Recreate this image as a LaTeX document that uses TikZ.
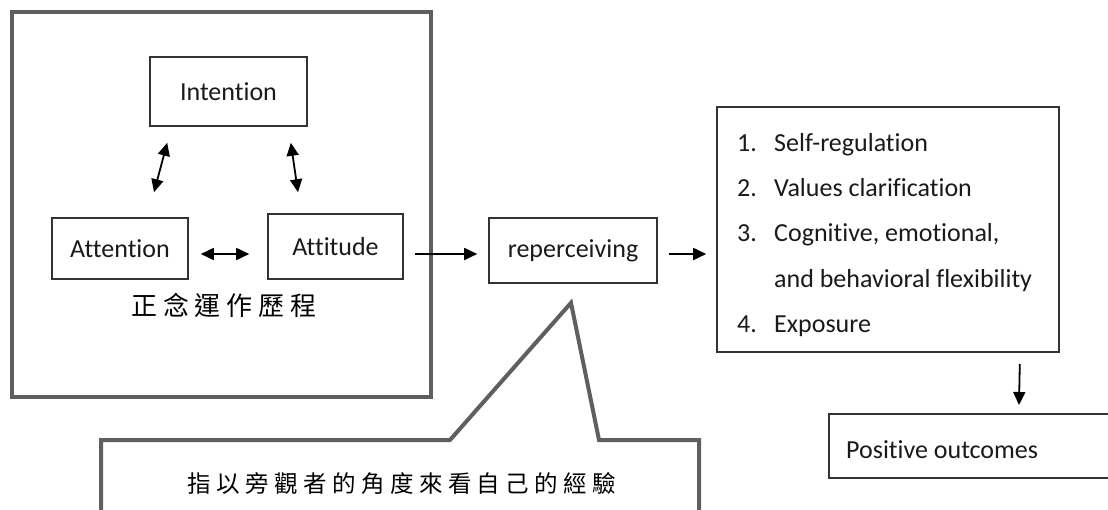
\documentclass[tikz,border=0pt]{standalone}
\usepackage{fontspec}
\setmainfont[RawFeature={-liga;-clig;-dlig;-hlig}]{Carlito}
\newfontfamily\cjk[LetterSpace=23]{Noto Sans CJK TC}
\usetikzlibrary{arrows.meta,calc}
\definecolor{boxc}{HTML}{333333}
\definecolor{outerc}{HTML}{5F5F5F}
\definecolor{txtc}{HTML}{1A1A1A}
\begin{document}
\begin{tikzpicture}[x=1pt,y=-1pt,
  box/.style={draw=boxc, line width=1.6pt, inner sep=0pt, text=txtc, font=\fontsize{26}{30}\selectfont},
  item/.style={inner sep=0pt, text=txtc, font=\fontsize{26}{30}\selectfont},
  frame/.style={draw=outerc, line width=4pt, line join=miter},
  conn/.style={line width=1.8pt, draw=black, -{Triangle[length=13pt,width=12pt]}},
  dbl/.style={line width=1.8pt, draw=black, {Triangle[length=13pt,width=12pt]}-{Triangle[length=13pt,width=12pt]}}
]
\useasboundingbox (0,0) rectangle (1108,509);
\fill[white] (0,0) rectangle (1108,509);
\clip (0,0) rectangle (1108,509);

% process frame
\node[frame, minimum width=419pt, minimum height=385pt, inner sep=0pt] (proc) at (221.5,204.5) {};
\node[box, minimum width=157pt, minimum height=69pt] (int) at (228.5,91.5) {Intention};
\node[box, minimum width=136pt, minimum height=61pt] (attn) at (120,248.5) {Attention};
\node[box, minimum width=135pt, minimum height=65pt] (att) at (335.5,246.5) {Attitude};
\node[text=black, inner sep=0pt, font=\cjk\fontsize{26}{30}\selectfont] (title) at (224,305) {正念運作歷程};

\draw[dbl] ($(attn.east)+(12,5.5)$) -- ($(att.west)+(-18,7.5)$);
\draw[dbl] ($(attn.north)+(34,-25)$) -- ($(int.south west)+(18,16)$);
\draw[dbl] ($(int.south east)+(-17,16)$) -- ($(att.north)+(-37.5,-21)$);

% reperceiving
\node[box, minimum width=168pt, minimum height=65pt] (rep) at (573,250.5) {reperceiving};
\draw[conn] ($(att.east)+(11,7.5)$) -- ($(rep.west)+(-11,3.5)$);

% list
\node[box, minimum width=342pt, minimum height=245pt] (lst) at (888,229.5) {};
\node[item, anchor=base west] (n1) at (737,151) {1.};
\node[item, anchor=base west] (t1) at (774,151) {Self-regulation};
\node[item, anchor=base west] (n2) at (737,196) {2.};
\node[item, anchor=base west] (t2) at (774,196) {Values clarification};
\node[item, anchor=base west] (n3) at (737,241) {3.};
\node[item, anchor=base west] (t3) at (774,241) {Cognitive, emotional,};
\node[item, anchor=base west] (t3b) at (774,287) {and behavioral flexibility};
\node[item, anchor=base west] (n4) at (737,332) {4.};
\node[item, anchor=base west] (t4) at (774,332) {Exposure};
\draw[conn] ($(rep.east)+(11,3.5)$) -- ($(lst.west)+(-10,24.5)$);

% positive outcomes
\node[box, minimum width=287pt, minimum height=64pt, anchor=north west] (pos) at (828,413) {};
\node[item, anchor=base west] (post) at (846,458) {Positive outcomes};
\draw[conn] ($(lst.south east)+(-40,11)$) -- ($(pos.north west)+(191,-8)$);

% callout
\node[text=black, inner sep=0pt, font=\cjk\fontsize{23.5}{28}\selectfont] (note) at (402,484) {指以旁觀者的角度來看自己的經驗};
\draw[frame] (101,520) -- (101,440) -- (450,440) -- ($(rep.south)+(-2,19)$) -- (599,440) -- (699,440) -- (699,520);
\end{tikzpicture}
\end{document}
